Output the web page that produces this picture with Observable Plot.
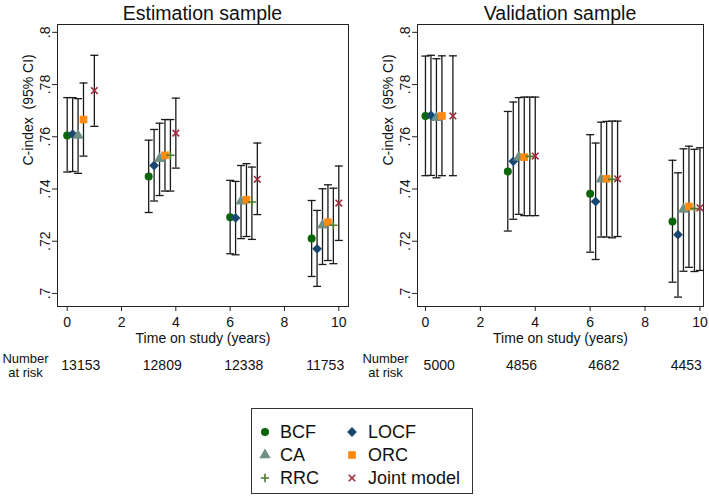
<!DOCTYPE html>
<html><head><meta charset="utf-8">
<script src="https://cdn.jsdelivr.net/npm/d3@7"></script>
<script src="https://cdn.jsdelivr.net/npm/@observablehq/plot@0.6"></script>
<style>
body{margin:0;background:#fff;font-family:"Liberation Sans",Arial,sans-serif;}
#wrap{position:relative;width:709px;height:497px;overflow:hidden;background:#fff;}
.title{position:absolute;top:3px;font-size:19.5px;line-height:20px;color:#111;white-space:nowrap;transform:translateX(-50%);}
.panel{position:absolute;top:0;}
#legend{position:absolute;left:251px;top:408px;}
</style>
</head><body><div id="wrap"></div>
<script>
// ---------- data ----------
const methods = ["BCF", "LOCF", "CA", "ORC", "RRC", "Joint model"];
const times = [0, 3, 6, 9];
const xTicks = [0, 2, 4, 6, 8, 10];
const yTicks = [0.70, 0.72, 0.74, 0.76, 0.78, 0.80];
const panelTitles = ["Estimation sample", "Validation sample"];
const riskLabelLines = ["Number", "at risk"];
const estRisk = [13153, 12809, 12338, 11753];
const valRisk = [5000, 4856, 4682, 4453];

// Estimation sample: rows = methods, columns = times
const estCindex = [
  [0.7605, 0.7448, 0.7292, 0.7210],
  [0.7610, 0.7490, 0.7289, 0.7171],
  [0.7605, 0.7516, 0.7353, 0.7261],
  [0.7666, 0.7529, 0.7359, 0.7273],
  [null,   0.7529, 0.7350, 0.7261],
  [0.7777, 0.7614, 0.7437, 0.7346]
];
const estLower = [
  [0.7465, 0.7310, 0.7152, 0.7065],
  [0.7467, 0.7354, 0.7148, 0.7027],
  [0.7460, 0.7375, 0.7210, 0.7111],
  [0.7526, 0.7392, 0.7218, 0.7126],
  [null,   0.7392, 0.7207, 0.7114],
  [0.7640, 0.7480, 0.7302, 0.7203]
];
const estUpper = [
  [0.7750, 0.7587, 0.7433, 0.7356],
  [0.7750, 0.7628, 0.7429, 0.7318],
  [0.7746, 0.7652, 0.7490, 0.7401],
  [0.7806, 0.7666, 0.7497, 0.7416],
  [null,   0.7666, 0.7484, 0.7403],
  [0.7912, 0.7748, 0.7576, 0.7488]
];
// Validation sample
const valCindex = [
  [0.7680, 0.7467, 0.7382, 0.7276],
  [0.7682, 0.7506, 0.7352, 0.7225],
  [0.7673, 0.7522, 0.7437, 0.7322],
  [0.7680, 0.7522, 0.7439, 0.7333],
  [null,   0.7525, 0.7437, 0.7325],
  [0.7680, 0.7526, 0.7439, 0.7328]
];
const valLower = [
  [0.7451, 0.7239, 0.7158, 0.7043],
  [0.7452, 0.7284, 0.7130, 0.6986],
  [0.7443, 0.7303, 0.7216, 0.7085],
  [0.7451, 0.7298, 0.7216, 0.7100],
  [null,   0.7298, 0.7213, 0.7084],
  [0.7451, 0.7298, 0.7218, 0.7088]
];
const valUpper = [
  [0.7909, 0.7697, 0.7608, 0.7510],
  [0.7912, 0.7733, 0.7576, 0.7462],
  [0.7899, 0.7750, 0.7656, 0.7554],
  [0.7910, 0.7752, 0.7659, 0.7564],
  [null,   0.7752, 0.7660, 0.7552],
  [0.7910, 0.7752, 0.7660, 0.7558]
];

// ---------- styles ----------
const markerStyle = {
  "BCF":         {symbol: "circle",   color: "#0b650b", r: 4.0, filled: true},
  "LOCF":        {symbol: "diamond2", color: "#1a476f", r: 4.4, filled: true},
  "CA":          {symbol: "triangle", color: "#6f8f83", r: 4.2, filled: true},
  "ORC":         {symbol: "square",   color: "#ff8a0d", r: 4.3, filled: true},
  "RRC":         {symbol: "plus",     color: "#4d7a2a", r: 2.8, filled: false},
  "Joint model": {symbol: "times",    color: "#a02c3c", r: 3.1, filled: false}
};
const capSymbol = {draw(ctx) { ctx.moveTo(-4, 0); ctx.lineTo(4, 0); }};
const fmtY = d => d3.format(".2f")(d).replace(/^0/, "").replace(/0$/, "");

function buildRows(c, lo, hi) {
  const rows = [];
  methods.forEach((m, i) => times.forEach((t, j) => {
    if (c[i][j] != null) rows.push({method: m, t, x: t + 0.2 * i, c: c[i][j], lo: lo[i][j], hi: hi[i][j]});
  }));
  return rows;
}

function panel(c, lo, hi, risk, xdom, width, ml, mr) {
  const rows = buildRows(c, lo, hi);
  const riskRows = times.map((t, j) => ({x: t + 0.5, n: risk[j]}));
  const font = {fontSize: 14, fill: "#111"};
  return Plot.plot({
    width, height: 390,
    marginTop: 24, marginBottom: 84, marginLeft: ml, marginRight: mr,
    style: {fontFamily: '"Liberation Sans", Arial, sans-serif', fontSize: "14px", color: "#111", background: "#fff", overflow: "visible"},
    x: {domain: xdom},
    y: {domain: [0.695, 0.803]},
    marks: [
      Plot.frame({stroke: "#222", strokeWidth: 1}),
      Plot.axisX({ticks: xTicks, tickSize: 5, tickPadding: 6, label: null, fontSize: 14, stroke: "#222"}),
      Plot.axisY({ticks: yTicks, tickFormat: fmtY, tickSize: 5, tickPadding: 3, tickRotate: -90, label: null, fontSize: 14, stroke: "#222"}),
      Plot.text(["C-index  (95% CI)"], {frameAnchor: "left", dx: -29, rotate: -90, ...font}),
      Plot.text(["Time on study (years)"], {frameAnchor: "bottom", dy: 32, lineAnchor: "middle", ...font}),
      Plot.text([riskLabelLines[0]], {frameAnchor: "bottom-left", dx: -32, dy: 52, lineAnchor: "middle", textAnchor: "middle", fontSize: 13, fill: "#111"}),
      Plot.text([riskLabelLines[1]], {frameAnchor: "bottom-left", dx: -32, dy: 66, lineAnchor: "middle", textAnchor: "middle", fontSize: 13, fill: "#111"}),
      Plot.text(riskRows, {x: "x", frameAnchor: "bottom", dy: 59, text: d => String(d.n), lineAnchor: "middle", ...font}),
      Plot.ruleX(rows, {x: "x", y1: "lo", y2: "hi", stroke: "#1a1a1a", strokeWidth: 1.3}),
      Plot.dot(rows, {x: "x", y: "lo", symbol: capSymbol, stroke: "#1a1a1a", strokeWidth: 1.3, fill: "none"}),
      Plot.dot(rows, {x: "x", y: "hi", symbol: capSymbol, stroke: "#1a1a1a", strokeWidth: 1.3, fill: "none"}),
      ...methods.map(m => {
        const s = markerStyle[m];
        const data = rows.filter(d => d.method === m);
        return s.filled
          ? Plot.dot(data, {x: "x", y: "c", symbol: s.symbol, r: s.r, fill: s.color, stroke: "none"})
          : Plot.dot(data, {x: "x", y: "c", symbol: s.symbol, r: s.r, stroke: s.color, strokeWidth: 1.6, fill: "none"});
      })
    ]
  });
}

const wrap = document.getElementById("wrap");
const left = panel(estCindex, estLower, estUpper, estRisk, [-0.357, 10.357], 354, 57, 6);
left.classList.add("panel"); left.style.left = "0px";
wrap.appendChild(left);
const right = panel(valCindex, valLower, valUpper, valRisk, [-0.29, 10.13], 355, 63, 6);
right.classList.add("panel"); right.style.left = "354px";
wrap.appendChild(right);

[[panelTitles[0], 202.5], [panelTitles[1], 560]].forEach(([t, cx]) => {
  const d = document.createElement("div");
  d.className = "title"; d.textContent = t; d.style.left = cx + "px";
  wrap.appendChild(d);
});

// ---------- legend ----------
const lw = 222, lh = 86;
const svg = d3.select(wrap).append("svg").attr("id", "legend").attr("width", lw).attr("height", lh)
  .style("font-family", '"Liberation Sans", Arial, sans-serif');
svg.append("rect").attr("x", 0.5).attr("y", 0.5).attr("width", lw - 1).attr("height", lh - 1)
  .attr("fill", "#fff").attr("stroke", "#333").attr("stroke-width", 1);
const symMap = {circle: d3.symbolCircle, diamond2: d3.symbolDiamond2, triangle: d3.symbolTriangle,
  square: d3.symbolSquare, plus: d3.symbolPlus, times: d3.symbolTimes};
methods.forEach((m, i) => {
  const col = i % 2, row = Math.floor(i / 2);
  const mx = col === 0 ? 14 : 101, tx = col === 0 ? 29 : 117, cy = 24 + row * 23;
  const s = markerStyle[m];
  const size = Math.PI * s.r * s.r;
  const p = svg.append("path").attr("d", d3.symbol(symMap[s.symbol], size)()).attr("transform", `translate(${mx},${cy})`);
  if (s.filled) p.attr("fill", s.color); else p.attr("fill", "none").attr("stroke", s.color).attr("stroke-width", 1.6);
  svg.append("text").attr("x", tx).attr("y", cy).attr("dy", "0.35em").attr("font-size", 18).attr("fill", "#111").text(m);
});
</script>
</body></html>
